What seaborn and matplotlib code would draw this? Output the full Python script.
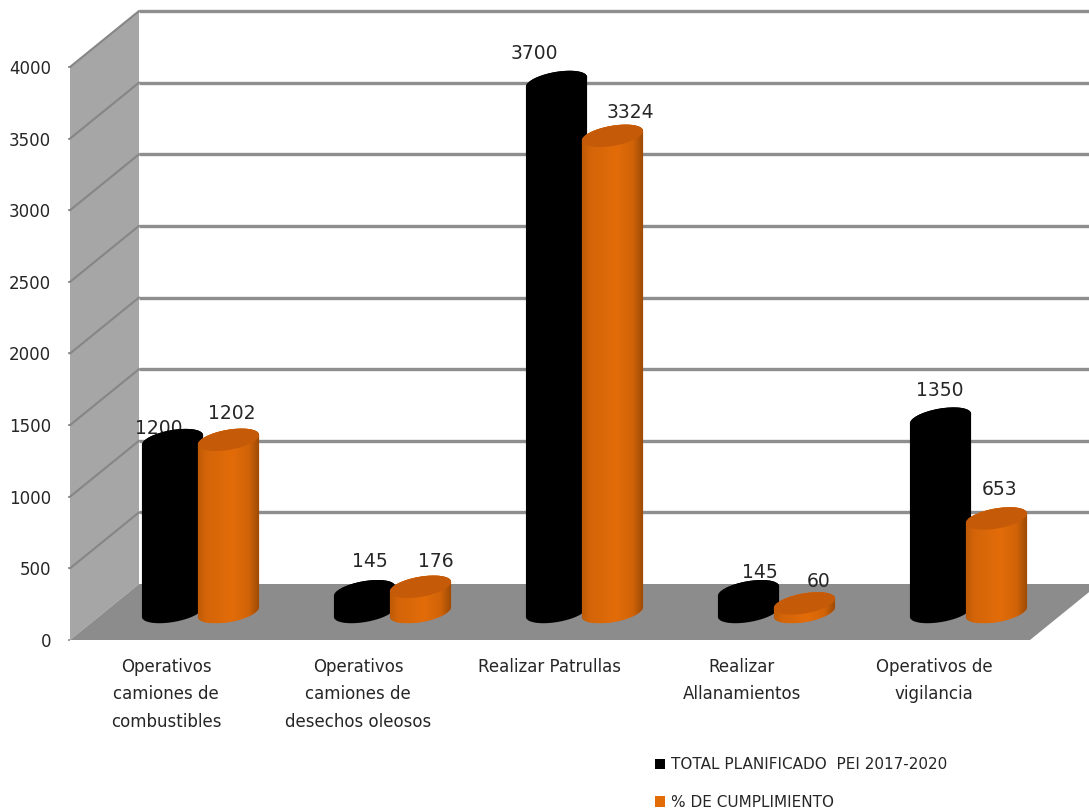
import numpy as np
import pandas as pd
import matplotlib
matplotlib.use("Agg")
import matplotlib.pyplot as plt
from matplotlib.patches import Polygon, Ellipse
from matplotlib.transforms import Affine2D, IdentityTransform
from matplotlib.colors import to_rgba
import seaborn as sns

categories = ["Operativos\ncamiones de\ncombustibles",
              "Operativos\ncamiones de\ndesechos oleosos",
              "Realizar Patrullas",
              "Realizar\nAllanamientos",
              "Operativos de\nvigilancia"]
series_names = ["TOTAL PLANIFICADO  PEI 2017-2020", "% DE CUMPLIMIENTO"]
planificado = [1200, 145, 3700, 145, 1350]
cumplimiento = [1202, 176, 3324, 60, 653]
y_ticks = [0, 500, 1000, 1500, 2000, 2500, 3000, 3500, 4000]

BLACK = "#000000"
ORANGE = "#E36C09"
ORANGE_TOP = "#C55A08"
GRID = "#8E8E8E"
WALL = "#A6A6A6"
FLOOR = "#8C8C8C"
TEXT = "#262626"

# style: data label offsets from each cylinder top, in pixels
label_dx = [[-14, 5, -22, 11, -1], [3, 15, 18, 14, 3]]
label_dy = [[12, 30, 28, 19, 28], [26, 25, 23, 22, 29]]

W, H = 1089, 811
DEPTH = np.array([69.0, 56.0])      # full chart depth in pixels
A, B, PHI = 31.0, 10.0, np.deg2rad(10)  # cylinder cap ellipse

sns.set_theme(style="white")
plt.rcParams["font.family"] = ["DejaVu Sans"]

fig = plt.figure(figsize=(W / 100, H / 100), dpi=100, facecolor="white")
ax = fig.add_axes([70 / W, (H - 640) / H, 960 / W, 573 / H])
ax.patch.set_visible(False)

df = pd.DataFrame({
    "categoria": categories * 2,
    "serie": [series_names[0]] * 5 + [series_names[1]] * 5,
    "valor": planificado + cumplimiento,
})
sns.barplot(data=df, x="categoria", y="valor", hue="serie",
            palette=[BLACK, ORANGE], width=0.583, gap=0, saturation=1,
            order=categories, hue_order=series_names, ax=ax, zorder=3,
            linewidth=0)

ax.set_xlim(-0.5, 4.5)
ax.set_ylim(0, 4000)
ax.set_yticks(y_ticks)
ax.set_xlabel("")
ax.set_ylabel("")
for s in ax.spines.values():
    s.set_visible(False)
ax.tick_params(axis="y", length=1.5, width=1.2, color=GRID, pad=12,
               labelsize=12, labelcolor=TEXT, left=True)
ax.tick_params(axis="x", length=0, pad=13, labelsize=12, labelcolor=TEXT)
for t in ax.get_xticklabels():
    t.set_linespacing(1.67)
    t.set_verticalalignment("top")

fig.canvas.draw()
ident = IdentityTransform()


def pt(x, y, depth=0.0):
    return ax.transData.transform((x, y)) + depth * DEPTH


# walls and floor
x0, x1 = ax.get_xlim()
side = [pt(x0, 0), pt(x0, 0, 1), pt(x0, 4000, 1), pt(x0, 4000)]
floor = [pt(x0, 0), pt(x1, 0), pt(x1, 0, 1), pt(x0, 0, 1)]
ax.add_patch(Polygon(side, closed=True, fc=WALL, ec="none", transform=ident,
                     zorder=1, clip_on=False))
ax.add_patch(Polygon(floor, closed=True, fc=FLOOR, ec="none", transform=ident,
                     zorder=1.1, clip_on=False))
for v in y_ticks[1:]:
    a, b, c = pt(x0, v), pt(x0, v, 1), pt(x1, v, 1)
    ax.plot([a[0], b[0]], [a[1], b[1]], color="#868686", lw=1.5,
            transform=ident, zorder=1.3, clip_on=False)
    ax.plot([b[0], c[0]], [b[1], c[1]], color=GRID, lw=2.4,
            transform=ident, zorder=1.3, clip_on=False, solid_capstyle="butt")

# cylinders: seaborn's bars pushed to mid depth, with round caps on them
mid = Affine2D().translate(*(DEPTH / 2))
t_r = np.arctan2(-B * np.sin(PHI), A * np.cos(PHI))
rot = np.array([[np.cos(PHI), -np.sin(PHI)], [np.sin(PHI), np.cos(PHI)]])


def arc(center, start, stop):
    t = np.linspace(start, stop, 60)
    pts = np.column_stack([A * np.cos(t), B * np.sin(t)])
    return pts @ rot.T + center


grad_stops = np.array([0.0, 0.12, 0.55, 0.82, 1.0])
grad_shade = np.array([0.84, 0.93, 1.00, 0.92, 0.68])

for s, cont in enumerate(ax.containers):
    colour = BLACK if s == 0 else ORANGE
    top_colour = BLACK if s == 0 else ORANGE_TOP
    for i, bar in enumerate(cont.patches):
        z = 3 + 0.1 * i + 0.01 * s
        bar.set_transform(ax.transData + mid)
        bar.set_zorder(z)
        xc = bar.get_x() + bar.get_width() / 2
        val = bar.get_height()
        base = pt(xc, 0, 0.5)
        top = pt(xc, val, 0.5)
        outline = np.vstack([arc(top, t_r, t_r + np.pi),
                             arc(base, t_r + np.pi, t_r + 2 * np.pi)])
        body = Polygon(outline, closed=True, fc=colour, ec="none",
                       transform=ident, zorder=z + 0.001, clip_on=False)
        ax.add_patch(body)
        bar.set_clip_path(body)
        if s == 1:
            xs = np.linspace(0, 1, 64)
            shade = np.interp(xs, grad_stops, grad_shade)
            rgb = np.array(to_rgba(ORANGE))[:3]
            img = np.ones((1, 64, 3)) * rgb * shade[None, :, None]
            im = ax.imshow(img, extent=(outline[:, 0].min(), outline[:, 0].max(),
                                        outline[:, 1].min(), outline[:, 1].max()),
                           transform=ident, aspect="auto", zorder=z + 0.002,
                           interpolation="bilinear", clip_on=True)
            im.set_clip_path(body)
        ax.add_patch(Ellipse(top, 2 * A, 2 * B, angle=np.rad2deg(PHI),
                             fc=top_colour, ec="none", transform=ident,
                             zorder=z + 0.003, clip_on=False))
        lx = top[0] + label_dx[s][i]
        ly = top[1] + label_dy[s][i]
        ax.text(lx, ly, f"{val:.0f}", transform=ident, ha="center", va="center",
                fontsize=13.5, color=TEXT, zorder=2.5, clip_on=False)

ax.set_xlim(-0.5, 4.5)
ax.set_ylim(0, 4000)

sns.move_legend(ax, loc="upper left", bbox_to_anchor=(655 / W, (H - 757) / H),
                bbox_transform=fig.transFigure, frameon=False, title=None,
                fontsize=11, handlelength=0.65, handleheight=0.65,
                handletextpad=0.4, labelspacing=1.5, borderpad=0, borderaxespad=0,
                labelcolor=TEXT)

fig.savefig("out.png", dpi=100, facecolor="white")
